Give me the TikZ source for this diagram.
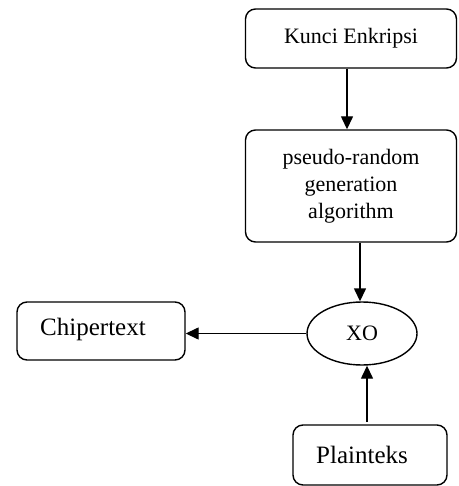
\documentclass[tikz,border=0pt]{standalone}
\usepackage{fontspec}
\setmainfont{Liberation Serif}
\usetikzlibrary{arrows.meta,shapes.geometric}
\begin{document}
\begin{tikzpicture}[x=1pt,y=1pt,
  box/.style={draw,line width=1.4pt,rounded corners=10pt,align=center,inner sep=0pt},
  arr/.style={line width=1.4pt,-{Triangle[width=12pt,length=13pt]}},
  smalltxt/.style={font=\fontsize{22}{27}\selectfont},
  bigtxt/.style={font=\fontsize{25}{30}\selectfont}]
\useasboundingbox (0,0) rectangle (458,-486);
\node[box,smalltxt,minimum width=211pt,minimum height=59pt] (k) at (351,-38.5) {Kunci Enkripsi};
\node[box,smalltxt,minimum width=211pt,minimum height=112pt] (p) at (351,-186) {pseudo-random\\generation\\algorithm};
\node[draw,ellipse,line width=1.4pt,minimum width=110pt,minimum height=63pt,inner sep=0pt,smalltxt] (x) at (362,-333.5) {XO};
\node[box,bigtxt,minimum width=168pt,minimum height=58pt] (c) at (101,-331) {};
\node[bigtxt] (ct) at (93,-329) {Chipertext};
\node[box,bigtxt,minimum width=154pt,minimum height=60pt] (pl) at (370,-455) {};
\node[bigtxt] (plt) at (362,-455) {Plainteks};
\coordinate (pa) at (347,0);
\coordinate (pb) at (360,0);
\coordinate (pc) at (367,-422);
\draw[arr] (k.south -| pa) -- (p.north -| pa);
\draw[arr] (p.south -| pb) -- (x.north -| pb);
\draw[arr] (x.west) -- (c.east |- x.west);
\draw[arr] (pc) -- (x.south -| pc);
\end{tikzpicture}
\end{document}
